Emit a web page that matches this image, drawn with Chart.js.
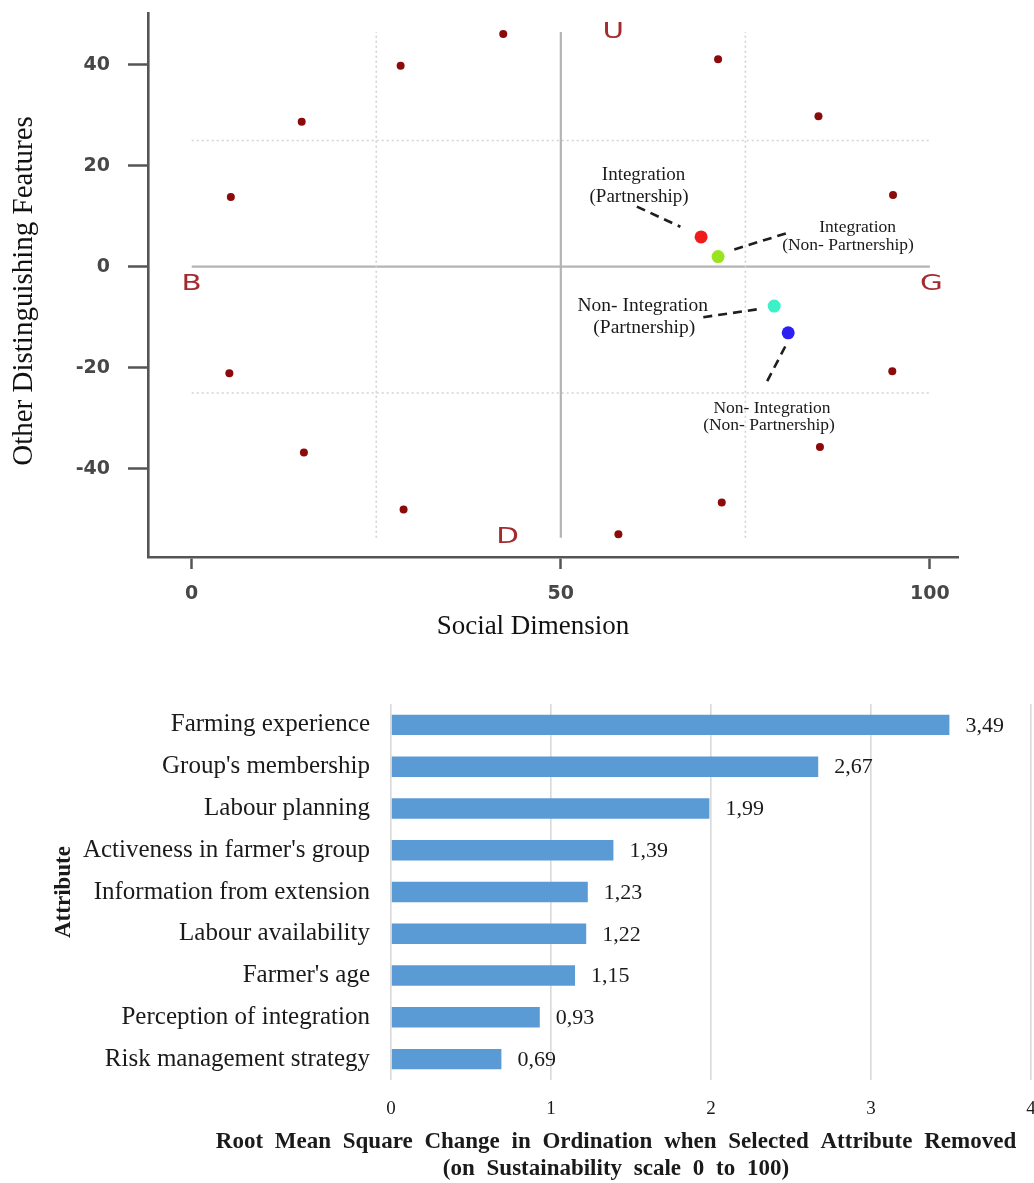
<!DOCTYPE html>
<html>
<head>
<meta charset="utf-8">
<script src="https://cdn.jsdelivr.net/npm/chart.js@4.4.1/dist/chart.umd.min.js"></script>
<style>
  html, body { margin: 0; padding: 0; background: #ffffff; }
  body { width: 1034px; height: 1183px; position: relative; overflow: hidden; }
  canvas { position: absolute; left: 0; }
  #ordination { top: 0; }
  #leverage { top: 680px; }
</style>
</head>
<body>
<canvas id="ordination" width="1034" height="650"></canvas>
<canvas id="leverage" width="1034" height="503"></canvas>
<script>
// ---- Ordination: social dimension vs. other distinguishing features ----
const anchorX = [42.2, 71.3, 84.9, 95.0, 94.9, 85.1, 71.8, 57.8, 28.7, 15.2, 5.1, 5.3, 14.9, 28.3];
const anchorY = [46.1, 41.1, 29.8, 14.2, -20.7, -35.7, -46.7, -53.0, -48.1, -36.8, -21.1, 13.8, 28.7, 39.8];

const groupNames = ['Integration (Partnership)', 'Integration (Non- Partnership)',
                    'Non- Integration (Partnership)', 'Non- Integration (Non- Partnership)'];
const groupX = [69.0, 71.3, 78.9, 80.8];
const groupY = [5.9, 2.0, -7.8, -13.1];

const ordXTicks = [0, 50, 100];
const ordYTicks = [-40, -20, 0, 20, 40];
const quadrantX = [25, 50, 75];
const quadrantY = [-25, 0, 25];
const poleLabels = ['U', 'B', 'G', 'D'];

// ---- Leverage of social attributes ----
const attributes = ['Farming experience', "Group's membership", 'Labour planning',
                    "Activeness in farmer's group", 'Information from extension',
                    'Labour availability', "Farmer's age", 'Perception of integration',
                    'Risk management strategy'];
const rmsChange = [3.49, 2.67, 1.99, 1.39, 1.23, 1.22, 1.15, 0.93, 0.69];
const leverageTicks = [0, 1, 2, 3, 4];

// ---- styling / placement ----
const groupColors = ['#f21b1b', '#9ae41f', '#3cf0c8', '#2b1ff2'];
const anchorColor = '#8c0a0a';
const poleColor = '#a32b2f';
const polePos = [[57.1, 46.3], [0, -3.6], [100.2, -3.6], [42.8, -53.6]];
// label line centres and leader segments, in data units
const callouts = [
  { size: 19, lines: [[61.2, 18.2], [60.6, 13.7]], leader: [[60.3, 11.9], [66.2, 7.9]] },
  { size: 17.5, lines: [[90.2, 7.7], [88.9, 4.3]], leader: [[73.5, 3.4], [80.5, 6.6]] },
  { size: 19.5, lines: [[61.1, -7.8], [61.3, -12.2]], leader: [[69.3, -10.0], [76.8, -8.4]] },
  { size: 17.5, lines: [[78.6, -28.0], [78.2, -31.5]], leader: [[80.4, -15.8], [77.9, -22.8]] }
];
const guideSpanX = [0, 100];
const guideSpanY = [-53.7, 46.5];

function guideSet(points, solid) {
  return {
    type: 'line', data: points, showLine: true, pointRadius: 0, order: 3,
    borderColor: solid ? '#b4b4b4' : '#d2d2d2', borderWidth: solid ? 2.2 : 1.6,
    borderDash: solid ? [] : [2, 3], fill: false
  };
}

const ordDatasets = [];
quadrantX.forEach(v => ordDatasets.push(guideSet([{ x: v, y: guideSpanY[0] }, { x: v, y: guideSpanY[1] }], v === 50)));
quadrantY.forEach(v => ordDatasets.push(guideSet([{ x: guideSpanX[0], y: v }, { x: guideSpanX[1], y: v }], v === 0)));
callouts.forEach(c => ordDatasets.push({
  type: 'line', data: c.leader.map(p => ({ x: p[0], y: p[1] })), showLine: true, pointRadius: 0,
  borderColor: '#1e1e1e', borderWidth: 2.6, borderDash: [9, 6], order: 2, fill: false
}));
ordDatasets.push({
  label: 'anchors', data: anchorX.map((x, i) => ({ x, y: anchorY[i] })),
  pointRadius: 4, pointBackgroundColor: anchorColor, pointBorderWidth: 0, order: 1
});
groupNames.forEach((name, i) => ordDatasets.push({
  label: name, data: [{ x: groupX[i], y: groupY[i] }],
  pointRadius: 6.5, pointBackgroundColor: groupColors[i], pointBorderWidth: 0, order: 0
}));

const ordinationText = {
  id: 'ordinationText',
  afterDatasetsDraw(chart) {
    const { ctx, scales: { x, y } } = chart;
    ctx.save();
    ctx.textAlign = 'center';
    ctx.textBaseline = 'middle';
    // pole letters
    ctx.fillStyle = poleColor;
    ctx.font = '21px "DejaVu Sans"';
    poleLabels.forEach((t, i) => {
      const px = x.getPixelForValue(polePos[i][0]);
      const py = y.getPixelForValue(polePos[i][1]);
      ctx.save();
      ctx.translate(px, py);
      ctx.scale(1.4, 1);
      ctx.fillText(t, 0, 0);
      ctx.restore();
    });
    // group callouts
    ctx.fillStyle = '#1a1a1a';
    groupNames.forEach((name, i) => {
      const c = callouts[i];
      const k = name.indexOf(' (');
      const parts = [name.slice(0, k), name.slice(k + 1)];
      ctx.font = c.size + 'px "Liberation Serif"';
      parts.forEach((p, j) => {
        ctx.fillText(p, x.getPixelForValue(c.lines[j][0]), y.getPixelForValue(c.lines[j][1]));
      });
    });
    // axis titles
    ctx.font = '27px "Liberation Serif"';
    ctx.fillStyle = '#111';
    ctx.fillText('Social Dimension', 533, 627);
    ctx.translate(24, 291);
    ctx.rotate(-Math.PI / 2);
    ctx.font = '29px "Liberation Serif"';
    ctx.fillText('Other Distinguishing Features', 0, 0);
    ctx.restore();
  }
};

function zeroPad(s) { s.paddingLeft = 0; s.paddingRight = 0; s.paddingTop = 0; s.paddingBottom = 0; }

const ordTickFont = { family: 'DejaVu Sans', size: 19, weight: 'bold' };

new Chart(document.getElementById('ordination'), {
  type: 'scatter',
  data: { datasets: ordDatasets },
  options: {
    responsive: false, animation: false, devicePixelRatio: 1,
    layout: { padding: { top: 13, right: 76, bottom: 0, left: 0 } },
    plugins: { legend: { display: false }, tooltip: { enabled: false } },
    scales: {
      x: {
        type: 'linear', min: -5.92, max: 103.8,
        afterBuildTicks: s => { s.ticks = ordXTicks.map(v => ({ value: v })); },
        afterFit: s => { s.height = 650 - 557; zeroPad(s); },
        grid: { drawOnChartArea: false, drawTicks: true, tickLength: 12, tickWidth: 2.5, tickColor: '#555' },
        border: { display: true, color: '#555', width: 2.6 },
        ticks: { padding: 14, color: '#474747', font: ordTickFont, callback: v => String(v) }
      },
      y: {
        type: 'linear', min: -57.49, max: 50.24,
        afterBuildTicks: s => { s.ticks = ordYTicks.map(v => ({ value: v })); },
        afterFit: s => { s.width = 148; zeroPad(s); },
        grid: { drawOnChartArea: false, drawTicks: true, tickLength: 20, tickWidth: 2.5, tickColor: '#555' },
        border: { display: true, color: '#555', width: 2.6 },
        ticks: { padding: 18, color: '#474747', font: ordTickFont, callback: v => String(v) }
      }
    }
  },
  plugins: [ordinationText]
});

// ---- leverage bar chart ----
const leverageText = {
  id: 'leverageText',
  afterDatasetsDraw(chart) {
    const { ctx } = chart;
    const meta = chart.getDatasetMeta(0);
    ctx.save();
    ctx.fillStyle = '#1a1a1a';
    ctx.font = '22px "Liberation Serif"';
    ctx.textAlign = 'left';
    ctx.textBaseline = 'middle';
    meta.data.forEach((bar, i) => {
      ctx.fillText(rmsChange[i].toFixed(2).replace('.', ','), bar.x + 16, bar.y + 1);
    });
    // axis titles
    ctx.textAlign = 'center';
    ctx.textBaseline = 'alphabetic';
    ctx.font = 'bold 23px "Liberation Serif"';
    ctx.wordSpacing = '6px';
    ctx.fillText('Root Mean Square Change in Ordination when Selected Attribute Removed', 616, 468);
    ctx.fillText('(on Sustainability scale 0 to 100)', 616, 495);
    ctx.wordSpacing = '0px';
    ctx.translate(64, 212);
    ctx.rotate(-Math.PI / 2);
    ctx.textBaseline = 'middle';
    ctx.fillText('Attribute', 0, 0);
    ctx.restore();
  }
};

new Chart(document.getElementById('leverage'), {
  type: 'bar',
  data: {
    labels: attributes,
    datasets: [{
      data: rmsChange, backgroundColor: '#5b9bd5', borderWidth: 0,
      barPercentage: 0.49, categoryPercentage: 1
    }]
  },
  options: {
    indexAxis: 'y',
    responsive: false, animation: false, devicePixelRatio: 1,
    layout: { padding: { top: 24, right: 3, bottom: 0, left: 0 } },
    plugins: { legend: { display: false }, tooltip: { enabled: false } },
    scales: {
      x: {
        type: 'linear', min: 0, max: 4,
        afterBuildTicks: s => { s.ticks = leverageTicks.map(v => ({ value: v })); },
        afterFit: s => { s.height = 103; zeroPad(s); },
        grid: { color: '#d9d9d9', lineWidth: 1.6, drawTicks: false },
        border: { display: false },
        ticks: { padding: 18, color: '#1a1a1a', font: { family: 'Liberation Serif', size: 19 }, callback: v => String(v) }
      },
      y: {
        afterFit: s => { s.width = 391; zeroPad(s); },
        grid: { display: false, drawTicks: false },
        border: { display: false },
        ticks: { padding: 21, color: '#1a1a1a', font: { family: 'Liberation Serif', size: 25 } }
      }
    }
  },
  plugins: [leverageText]
});
</script>
</body>
</html>
